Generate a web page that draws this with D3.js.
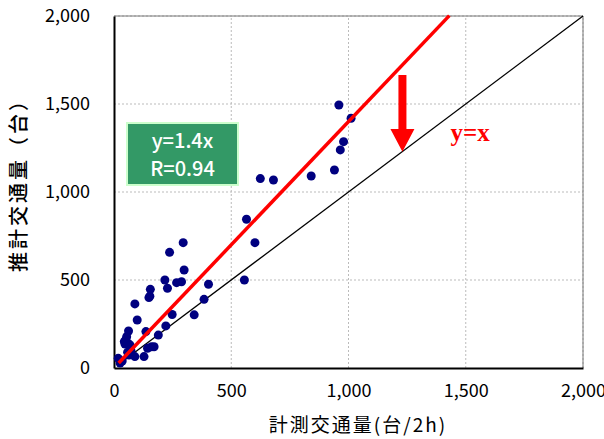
<!DOCTYPE html>
<html>
<head>
<meta charset="utf-8">
<script src="https://cdn.jsdelivr.net/npm/d3@7"></script>
<style>
  body { margin: 0; background: #fff; }
  text { font-family: "Noto Sans CJK JP", "Noto Sans", sans-serif; }
</style>
</head>
<body>
<div id="root"></div>
<script>
const w = 604, h = 439
const margin = {left: 114, top: 16, right: 21, bottom: 71}

// measured (x) vs estimated (y) traffic volumes
const measured = [959, 1011, 979, 965, 940, 841, 680, 624, 565, 601, 556,
    295, 237, 299, 217, 228, 267, 288, 155, 149, 153, 403, 384, 342, 248, 89, 99, 221, 136, 189, 62,
    54, 44, 47, 68, 60, 160, 171, 143, 128, 89, 18, 26, 64, 50, 72, 58, 35]
const estimated = [1494, 1419, 1286, 1239, 1125, 1091, 1068, 1076, 845, 712, 500,
    712, 657, 557, 500, 453, 485, 490, 447, 400, 408, 476, 390, 302, 304, 364, 273, 239, 207, 187, 210,
    178, 150, 136, 131, 140, 121, 121, 112, 65, 65, 55, 28, 74, 160, 100, 90, 40]

const ticks = [0, 500, 1000, 1500, 2000]
const fitX = [20, 1430], fitY = [28, 2002]
const refX = [25, 2000], refY = [25, 2000]
const fitLabels = ["y=1.4x", "R=0.94"]

const x = d3.scaleLinear().domain([0, 2000]).range([margin.left, w - margin.right])
const y = d3.scaleLinear().domain([0, 2000]).range([h - margin.bottom, margin.top])

const svg = d3.select("#root").append("svg")
    .attr("width", w)
    .attr("height", h)

// grid
svg.append("g").selectAll("line.gx")
    .data(ticks.slice(1))
    .join("line")
    .attr("x1", d => x(d)).attr("x2", d => x(d))
    .attr("y1", y(0)).attr("y2", y(2000))
    .attr("stroke", "#bbb").attr("stroke-dasharray", "2,2")
svg.append("g").selectAll("line.gy")
    .data(ticks.slice(1))
    .join("line")
    .attr("y1", d => y(d)).attr("y2", d => y(d))
    .attr("x1", x(0)).attr("x2", x(2000))
    .attr("stroke", "#bbb").attr("stroke-dasharray", "2,2")

// top/right border
svg.append("path")
    .attr("d", `M${x(0)},${y(2000)}H${x(2000)}V${y(0)}`)
    .attr("fill", "none").attr("stroke", "#777").attr("stroke-width", 1)

// axes
const fmt = d3.format(",")
const xAxis = svg.append("g")
    .attr("transform", `translate(0,${y(0)})`)
    .call(d3.axisBottom(x).tickValues(ticks).tickFormat(fmt).tickSize(0).tickPadding(16))
const yAxis = svg.append("g")
    .attr("transform", `translate(${x(0)},0)`)
    .call(d3.axisLeft(y).tickValues(ticks).tickFormat(fmt).tickSize(0).tickPadding(24))
;[xAxis, yAxis].forEach(a => {
    a.select(".domain").attr("stroke", "#000").attr("stroke-width", 2)
    a.selectAll("text").attr("font-size", 18).attr("fill", "#000")
})

// y = x line
svg.append("line")
    .attr("x1", x(refX[0])).attr("y1", y(refY[0]))
    .attr("x2", x(refX[1])).attr("y2", y(refY[1]))
    .attr("stroke", "#000").attr("stroke-width", 1.3)

// points
svg.append("g").selectAll("circle")
    .data(measured.map((d, i) => [d, estimated[i]]))
    .join("circle")
    .attr("cx", d => x(d[0]))
    .attr("cy", d => y(d[1]))
    .attr("r", 4.5)
    .attr("fill", "#000080")

// fit line
svg.append("line")
    .attr("x1", x(fitX[0])).attr("y1", y(fitY[0]))
    .attr("x2", x(fitX[1])).attr("y2", y(fitY[1]))
    .attr("stroke", "#ff0000").attr("stroke-width", 3.5)

// arrow pointing down to y=x
const ax = x(1230), aTop = y(1665), aBase = y(1358), aTip = y(1228)
svg.append("path")
    .attr("d", `M${ax - 4},${aTop}H${ax + 4}V${aBase}H${ax + 12}L${ax},${aTip}L${ax - 12},${aBase}H${ax - 4}Z`)
    .attr("fill", "#ff0000")

svg.append("text")
    .attr("x", x(1435)).attr("y", y(1290))
    .attr("fill", "#ff0000")
    .attr("font-size", 25)
    .attr("font-weight", "bold")
    .style("font-family", "'Liberation Serif', serif")
    .text("y=x")

// equation box
svg.append("rect")
    .attr("x", 127).attr("y", 123)
    .attr("width", 111).attr("height", 62)
    .attr("fill", "#339966")
    .attr("stroke", "#ccffcc").attr("stroke-width", 2)
svg.selectAll("text.eq")
    .data(fitLabels)
    .join("text")
    .attr("class", "eq")
    .attr("x", 182.5)
    .attr("y", (d, i) => 148 + i * 28)
    .attr("text-anchor", "middle")
    .attr("fill", "#fff")
    .attr("font-size", 20)
    .attr("font-weight", 500)
    .text(d => d)

// axis titles
svg.append("text")
    .attr("x", 358).attr("y", 432)
    .attr("text-anchor", "middle")
    .attr("font-size", 19)
    .attr("letter-spacing", 2)
    .attr("fill", "#000")
    .text("計測交通量(台/2h)")
svg.append("text")
    .attr("transform", `translate(26,${180}) rotate(-90)`)
    .attr("text-anchor", "middle")
    .attr("font-size", 20)
    .attr("letter-spacing", 3)
    .attr("font-weight", 500)
    .attr("fill", "#000")
    .text("推計交通量（台）")
</script>
</body>
</html>
